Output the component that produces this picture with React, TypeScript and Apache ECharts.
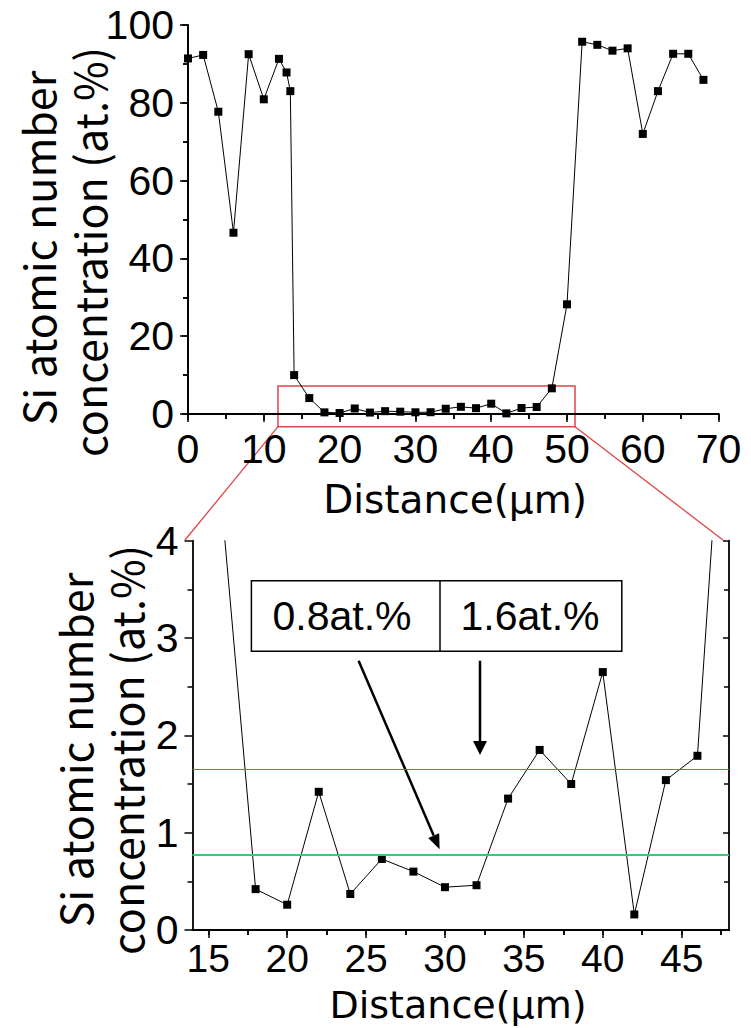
import React, { useEffect, useRef } from "react";
import * as echarts from "echarts";

// ---- data ----
const distance = [0, 2, 4, 6, 8, 10, 12, 13, 13.5, 14, 16, 18, 20, 22, 24, 26, 28, 30, 32, 34, 36, 38, 40, 42, 44, 46, 48, 50, 52, 54, 56, 58, 60, 62, 64, 66, 68];
const siConcentration = [91.4, 92.3, 77.7, 46.6, 92.5, 80.9, 91.3, 87.8, 83.0, 10.0, 4.1, 0.42, 0.26, 1.42, 0.37, 0.73, 0.6, 0.44, 0.46, 1.35, 1.85, 1.5, 2.65, 0.16, 1.54, 1.79, 6.6, 28.2, 95.7, 94.9, 93.4, 94.0, 72.0, 83.0, 92.6, 92.6, 85.9];

const bottomXMajorTicks = [15, 20, 25, 30, 35, 40, 45];
const bottomXMinorTicks = [17.5, 22.5, 27.5, 32.5, 37.5, 42.5, 47.5];
const bottomXAllTicks = [15, 17.5, 20, 22.5, 25, 27.5, 30, 32.5, 35, 37.5, 40, 42.5, 45, 47.5];

const levelHigh = 1.65;
const levelLow = 0.77;
const boxLabels = ["0.8at.%", "1.6at.%"];
const yTitleLines = ["Si atomic number", "concentration (at.%)"];
const xTitle = "Distance(μm)";

const TICK_FONT = "'Liberation Sans', Arial, sans-serif";
const TITLE_FONT = "'Noto Sans CJK JP', 'Liberation Sans', sans-serif";
const XTITLE_FONT = "'DejaVu Sans', 'Liberation Sans', sans-serif";
const RED = "#e04448";
const GREEN = "#3fc47e";

export default function App() {
  const ref = useRef<HTMLDivElement>(null);

  useEffect(() => {
    if (!ref.current) return;
    const chart = echarts.init(ref.current, undefined, { renderer: "svg" });
    const pts = distance.map((d, i) => [d, siConcentration[i]]);

    const axisLine = { show: true, lineStyle: { color: "#000", width: 1.8 } };
    const tickStyle = { color: "#000", width: 1.5 };
    const label = { show: true, color: "#000", fontSize: 41, fontFamily: TICK_FONT };

    const text = (t: string, x: number, y: number, size: number, family: string, rot = 0) => ({
      type: "text",
      x,
      y,
      rotation: rot,
      silent: true,
      style: {
        text: t,
        fill: "#000",
        fontSize: size,
        fontFamily: family,
        align: "center",
        verticalAlign: "middle",
        textAlign: "center",
        textVerticalAlign: "middle",
      },
    });

    // arrow 1 geometry
    const a1s = [358.6, 660.7];
    const a1t = [439.6, 849.3];
    const dx = a1t[0] - a1s[0];
    const dy = a1t[1] - a1s[1];
    const len = Math.sqrt(dx * dx + dy * dy);
    const ux = dx / len;
    const uy = dy / len;
    const hb = [a1t[0] - 15 * ux, a1t[1] - 15 * uy];

    const option: any = {
      animation: false,
      backgroundColor: "#fff",
      grid: [
        { left: 188, top: 25, width: 530.6, height: 389, containLabel: false },
        { left: 192.5, top: 540.7, width: 536.5, height: 389.3, containLabel: false },
        { left: 192.5, top: 540.7, width: 536.5, height: 389.3, containLabel: false },
      ],
      xAxis: [
        {
          gridIndex: 0, type: "value", position: "bottom", min: 0, max: 70, interval: 10,
          axisLine, splitLine: { show: false },
          axisTick: { show: true, length: 8, lineStyle: tickStyle },
          minorTick: { show: true, splitNumber: 2, length: 5, lineStyle: tickStyle },
          axisLabel: { ...label, margin: 14 },
        },
        {
          gridIndex: 0, type: "value", position: "top", min: 0, max: 70, interval: 10,
          axisLine, splitLine: { show: false },
          axisTick: { show: true, inside: true, length: 6, lineStyle: tickStyle },
          minorTick: { show: true, splitNumber: 2, length: 5, lineStyle: tickStyle },
          axisLabel: { show: false },
        },
        {
          gridIndex: 1, type: "value", position: "bottom", min: 14, max: 48,
          axisLine, splitLine: { show: false },
          axisTick: { show: true, length: 8, customValues: bottomXMajorTicks, lineStyle: tickStyle },
          axisLabel: { ...label, fontSize: 39, margin: 9, customValues: bottomXMajorTicks },
        },
        {
          gridIndex: 1, type: "value", position: "top", min: 14, max: 48,
          axisLine, splitLine: { show: false },
          axisTick: { show: true, inside: true, length: 5, customValues: bottomXAllTicks, lineStyle: tickStyle },
          axisLabel: { show: false },
        },
        {
          gridIndex: 2, type: "value", position: "bottom", min: 14, max: 48,
          axisLine: { show: false }, splitLine: { show: false },
          axisTick: { show: true, length: 5, customValues: bottomXMinorTicks, lineStyle: tickStyle },
          axisLabel: { show: false },
        },
      ],
      yAxis: [
        {
          gridIndex: 0, type: "value", position: "left", min: 0, max: 100, interval: 20,
          axisLine, splitLine: { show: false },
          axisTick: { show: true, length: 8, lineStyle: tickStyle },
          minorTick: { show: true, splitNumber: 2, length: 5, lineStyle: tickStyle },
          axisLabel: { ...label, margin: 14 },
        },
        {
          gridIndex: 0, type: "value", position: "right", min: 0, max: 100, interval: 20,
          axisLine, splitLine: { show: false },
          axisTick: { show: true, inside: true, length: 6, lineStyle: tickStyle },
          minorTick: { show: true, splitNumber: 2, length: 5, lineStyle: tickStyle },
          axisLabel: { show: false },
        },
        {
          gridIndex: 1, type: "value", position: "left", min: 0, max: 4, interval: 1,
          axisLine, splitLine: { show: false },
          axisTick: { show: true, length: 8, lineStyle: tickStyle },
          minorTick: { show: true, splitNumber: 2, length: 5, lineStyle: tickStyle },
          axisLabel: { ...label, margin: 14 },
        },
        {
          gridIndex: 1, type: "value", position: "right", min: 0, max: 4, interval: 1,
          axisLine, splitLine: { show: false },
          axisTick: { show: true, inside: true, length: 6, lineStyle: tickStyle },
          minorTick: { show: true, splitNumber: 2, length: 5, lineStyle: tickStyle },
          axisLabel: { show: false },
        },
        { gridIndex: 2, type: "value", min: 0, max: 4, show: false },
      ],
      series: [
        {
          type: "line", xAxisIndex: 0, yAxisIndex: 0, data: pts,
          symbol: "rect", symbolSize: 8, clip: true,
          itemStyle: { color: "#000" },
          lineStyle: { color: "#000", width: 1 },
        },
        {
          type: "line", xAxisIndex: 2, yAxisIndex: 2, data: pts,
          symbol: "rect", symbolSize: 8, clip: true,
          itemStyle: { color: "#000" },
          lineStyle: { color: "#000", width: 1 },
          markLine: {
            silent: true, symbol: ["none", "none"], label: { show: false },
            data: [
              { yAxis: levelHigh, lineStyle: { color: RED, width: 1.2, type: "solid" } },
              { yAxis: levelLow, lineStyle: { color: GREEN, width: 2, type: "solid" } },
            ],
          },
        },
      ],
      graphic: [
        // axis titles
        text(yTitleLines[0], 37, 248, 43, TITLE_FONT, Math.PI / 2),
        text(yTitleLines[1], 88, 252, 43, TITLE_FONT, Math.PI / 2),
        text(yTitleLines[0], 74, 750, 43, TITLE_FONT, Math.PI / 2),
        text(yTitleLines[1], 125, 750, 43, TITLE_FONT, Math.PI / 2),
        text(xTitle, 455, 499, 39, XTITLE_FONT),
        text(xTitle, 458, 1005, 38, XTITLE_FONT),
        // zoom rectangle and connectors
        { type: "rect", silent: true, shape: { x: 278, y: 386, width: 297, height: 40.7 }, style: { fill: "none", stroke: RED, lineWidth: 1.5 } },
        { type: "line", silent: true, shape: { x1: 278, y1: 426.7, x2: 185, y2: 540 }, style: { stroke: RED, lineWidth: 1.3 } },
        { type: "line", silent: true, shape: { x1: 575, y1: 426.7, x2: 723, y2: 540 }, style: { stroke: RED, lineWidth: 1.3 } },
        // label box
        { type: "rect", silent: true, shape: { x: 251.4, y: 580.7, width: 370.4, height: 70.6 }, style: { fill: "#fff", stroke: "#000", lineWidth: 1.5 } },
        { type: "line", silent: true, shape: { x1: 440, y1: 580.7, x2: 440, y2: 651.3 }, style: { stroke: "#000", lineWidth: 1.5 } },
        text(boxLabels[0], 342, 616, 41, TICK_FONT),
        text(boxLabels[1], 530, 616, 41, TICK_FONT),
        // arrows
        { type: "line", silent: true, shape: { x1: a1s[0], y1: a1s[1], x2: hb[0], y2: hb[1] }, style: { stroke: "#000", lineWidth: 2.5 } },
        {
          type: "polygon", silent: true,
          shape: { points: [a1t, [hb[0] - 6 * uy, hb[1] + 6 * ux], [hb[0] + 6 * uy, hb[1] - 6 * ux]] },
          style: { fill: "#000" },
        },
        { type: "line", silent: true, shape: { x1: 480, y1: 660.7, x2: 480, y2: 742 }, style: { stroke: "#000", lineWidth: 2.5 } },
        { type: "polygon", silent: true, shape: { points: [[480, 755], [473, 741], [487, 741]] }, style: { fill: "#000" } },
      ],
    };

    chart.setOption(option);
    return () => chart.dispose();
  }, []);

  return <div ref={ref} style={{ position: "absolute", left: 0, top: 0, width: 751, height: 1028 }} />;
}
